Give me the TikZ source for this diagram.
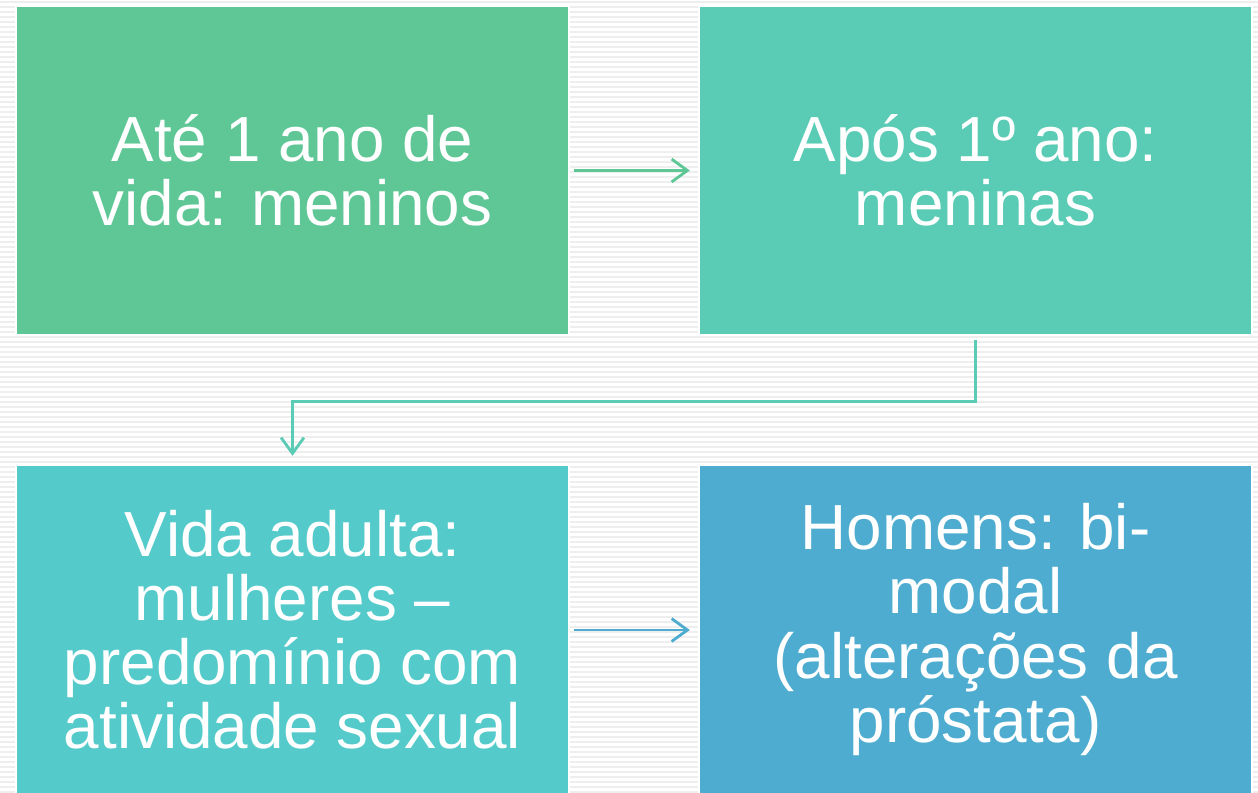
\documentclass[tikz,border=0pt]{standalone}
\usepackage{fontspec}
\setmainfont{Liberation Sans}
\usepackage{tikz}
\usetikzlibrary{arrows.meta}

\definecolor{boxA}{HTML}{5EC795}
\definecolor{boxB}{HTML}{5ACBB5}
\definecolor{boxC}{HTML}{55CACA}
\definecolor{boxD}{HTML}{4DACCF}
\definecolor{stripe}{HTML}{EEEEEE}

\begin{document}
\begin{tikzpicture}[x=0.02cm, y=-0.02cm,
    stage/.style={draw=white, line width=1.5pt, minimum width=11.06cm, minimum height=6.58cm,
        inner sep=0pt, align=center, text=white,
        font=\fontsize{36.3}{36.5}\selectfont},
    flow/.style={line width=1.6pt, -{Straight Barb[length=9pt, width=13pt, line width=1.6pt]}}]

    \useasboundingbox (0,0) rectangle (1258,792);
    \fill[white] (0,0) rectangle (1258,792);
    \foreach \y in {2,7,...,792}
        \draw[stripe, line width=1.4pt] (0,\y) -- (1258,\y);

    \node[stage, fill=boxA] (early) at (292.5,170.5) {Até 1 ano de\\vida: meninos};
    \node[stage, fill=boxB] (after) at (975.5,170.5) {Após 1º ano:\\meninas};
    \node[stage, fill=boxC] (adult) at (292.5,629.5) {Vida adulta:\\mulheres –\\predomínio com\\atividade sexual};
    \node[stage, fill=boxD] (men) at (975.5,629.5) {Homens: bi-\\modal\\(alterações da\\próstata)};

    \draw[flow, boxA, shorten <=2.3pt, shorten >=4.5pt] (early.east) -- (after.west);
    \draw[flow, boxB, shorten <=2.3pt, shorten >=4.5pt] (after.south) -- ++(0,65) -| (adult.north);
    \draw[flow, boxD, shorten <=2.3pt, shorten >=4.5pt] (adult.east |- 0,630) -- (men.west |- 0,630);

\end{tikzpicture}
\end{document}
